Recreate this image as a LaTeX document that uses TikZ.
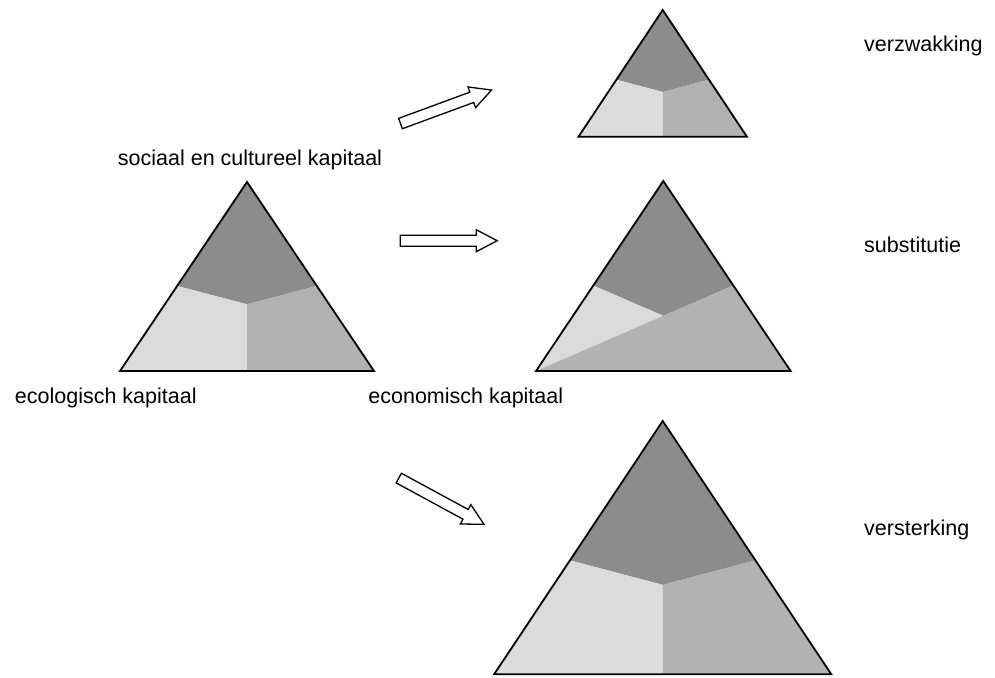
\documentclass[tikz,border=0pt]{standalone}
\usepackage{fontspec}
\setmainfont{Liberation Sans}
\usetikzlibrary{calc}
\definecolor{gdark}{RGB}{140,140,140}
\definecolor{gmid}{RGB}{178,178,178}
\definecolor{glight}{RGB}{219,219,219}
\tikzset{
  outline/.style={draw=black,line width=1.8pt,line join=miter},
  blockarrow/.style={draw=black,fill=white,line width=1.3pt,line join=miter},
  lbl/.style={inner sep=0pt,font=\fontsize{21.5}{26}\selectfont}
}
% #1 apex x, #2 apex y, #3 half base width, #4 base y
\newcommand{\normaltri}[4]{%
  \coordinate (A) at (#1,#2);
  \coordinate (L) at (#1-#3,#4);
  \coordinate (R) at (#1+#3,#4);
  \coordinate (Lb) at ($(L)!0.45!(A)$);
  \coordinate (Rb) at ($(R)!0.45!(A)$);
  \coordinate (C) at ($(#1,#4)!0.353!(A)$);
  \coordinate (M) at (#1,#4);
  \fill[gdark] (A) -- (Lb) -- (C) -- (Rb) -- cycle;
  \fill[glight] (Lb) -- (L) -- (M) -- (C) -- cycle;
  \fill[gmid] (C) -- (M) -- (R) -- (Rb) -- cycle;
  \draw[outline] (A) -- (L) -- (R) -- cycle;
}
\newcommand{\barrow}[3]{%
  \begin{scope}[shift={(#1,#2)},rotate=#3]
    \draw[blockarrow] (-48.5,-5.5) -- (27.5,-5.5) -- (27.5,-11) -- (48.5,0)
      -- (27.5,11) -- (27.5,5.5) -- (-48.5,5.5) -- cycle;
  \end{scope}}
\begin{document}
\begin{tikzpicture}[x=1pt,y=-1pt]
\useasboundingbox (0,0) rectangle (995,677);
\fill[white] (0,0) rectangle (995,677);

% main triangle
\normaltri{247}{182}{127}{371}
% top triangle (verzwakking)
\normaltri{662.7}{10}{84.2}{136.7}
% bottom triangle (versterking)
\normaltri{662.7}{421}{168.6}{674.3}

% substitution triangle
\coordinate (SA) at (663.3,181);
\coordinate (SL) at (536,371);
\coordinate (SR) at (790.6,371);
\coordinate (SLb) at ($(SL)!0.45!(SA)$);
\coordinate (SRb) at ($(SR)!0.45!(SA)$);
\coordinate (SC) at ($(SL)!0.6452!(SRb)$);
\fill[gdark] (SA) -- (SLb) -- (SC) -- (SRb) -- cycle;
\fill[glight] (SLb) -- (SL) -- (SC) -- cycle;
\fill[gmid] (SL) -- (SR) -- (SRb) -- cycle;
\draw[outline] (SA) -- (SL) -- (SR) -- cycle;

% arrows
\barrow{446}{106.8}{20.2}
\barrow{448.7}{240.7}{0}
\barrow{441.4}{501.2}{-28.5}

% labels
\node[lbl,anchor=base] (soc) at (250,165) {sociaal en cultureel kapitaal};
\node[lbl,anchor=base] (eco) at (105.8,403) {ecologisch kapitaal};
\node[lbl,anchor=base] (econ) at (465.8,403) {economisch kapitaal};
\node[lbl,anchor=base west] (verz) at (864,52) {verzwakking};
\node[lbl,anchor=base west] (subs) at (864,252.5) {substitutie};
\node[lbl,anchor=base west] (vers) at (864,535) {versterking};
\end{tikzpicture}
\end{document}
